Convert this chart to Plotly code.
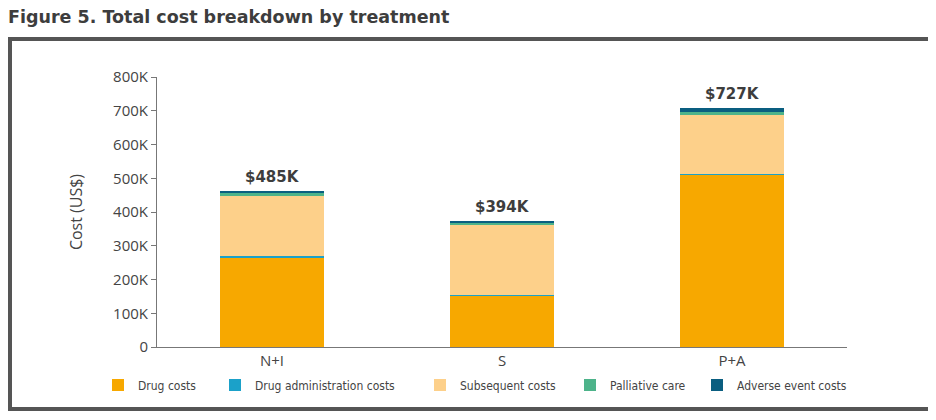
import plotly.graph_objects as go

categories = ["N+I", "S", "P+A"]
drug_costs = [264000, 152000, 510000]
drug_admin_costs = [6000, 1500, 3000]
subsequent_costs = [176000, 209000, 175000]
palliative_care = [9000, 5000, 9000]
adverse_event_costs = [8000, 7000, 12000]
total_labels = ["$485K", "$394K", "$727K"]

series = [
    ("Drug costs", drug_costs, "#F7A800", 72),
    ("Drug administration costs", drug_admin_costs, "#1BA1C9", 160),
    ("Subsequent costs", subsequent_costs, "#FDD08A", 105),
    ("Palliative care", palliative_care, "#4DB38A", 82),
    ("Adverse event costs", adverse_event_costs, "#0A5E80", 120),
]

# page body has an 8px margin; figure coordinates = screen coordinates - 8
OFF = 8
W, H = 936 - OFF, 420 - OFF
L, T = 157 - OFF, 77 - OFF
PLOT_R, PLOT_B = 847 - OFF, 347 - OFF
R, B = W - PLOT_R, H - PLOT_B
pw, ph = PLOT_R - L, PLOT_B - T

def px(x):
    return (x - OFF - L) / pw

def py(y):
    return (PLOT_B - (y - OFF)) / ph

fig = go.Figure()
for name, vals, color, lw in series:
    fig.add_trace(go.Bar(
        x=categories, y=vals, name=name,
        marker=dict(color=color, line=dict(width=0)),
        width=0.45, legendwidth=lw,
    ))

totals = [sum(v) for v in zip(drug_costs, drug_admin_costs, subsequent_costs,
                              palliative_care, adverse_event_costs)]
for c, t, lab in zip(categories, totals, total_labels):
    fig.add_annotation(x=c, y=t, text=lab, showarrow=False, yanchor="bottom",
                       yshift=3, font=dict(family="DejaVu Sans", size=15,
                                           color="#3d3d3d", weight="bold"))

fig.add_shape(type="rect", xref="paper", yref="paper",
              x0=px(10), x1=px(930), y0=py(409), y1=py(39),
              line=dict(color="#555555", width=4), layer="below")

fig.update_layout(
    width=W, height=H,
    margin=dict(l=L, r=R, t=T, b=B, autoexpand=False),
    barmode="stack",
    paper_bgcolor="white", plot_bgcolor="white",
    title=dict(text="Figure 5. Total cost breakdown by treatment",
               xref="container", yref="container",
               x=0, y=1 - (17 - OFF) / H, xanchor="left", yanchor="middle",
               font=dict(family="DejaVu Sans", size=17.5, color="#3d3d3d",
                         weight="bold")),
    font=dict(family="Open Sans", color="#444444"),
    xaxis=dict(showline=True, linecolor="#777777", linewidth=1,
               ticks="", tickfont=dict(size=15, color="#444444"),
               range=[-0.5, 2.5], showgrid=False),
    yaxis=dict(range=[0, 800000], tickvals=[0, 100000, 200000, 300000, 400000,
                                             500000, 600000, 700000, 800000],
               ticktext=["0", "100K", "200K", "300K", "400K", "500K", "600K",
                         "700K", "800K"],
               showline=True, linecolor="#777777", linewidth=1,
               ticks="outside", ticklen=5, tickcolor="#777777",
               tickfont=dict(size=15, color="#444444"),
               showgrid=False, zeroline=False,
               title=dict(text="Cost (US$)", standoff=26,
                          font=dict(size=16, color="#444444"))),
    legend=dict(orientation="h", x=px(98), xanchor="left",
                y=py(385), yanchor="middle",
                font=dict(family="DejaVu Sans Condensed, Roboto, sans-serif",
                          size=12, color="#444444"),
                traceorder="normal", itemclick=False),
)

fig.write_html("out.html")
